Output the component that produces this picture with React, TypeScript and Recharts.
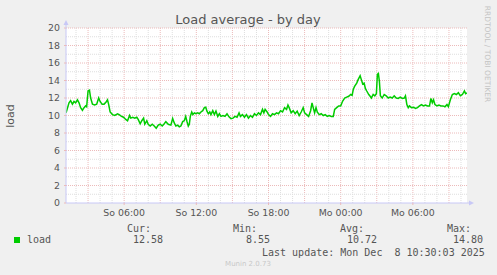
import { LineChart, Line, XAxis, YAxis, CartesianGrid, ReferenceLine } from "recharts";

// minutes since So 00:00 -> load
const SUNDAY_MORNING: [number, number][] = [
  [70, 10.3], [73, 10.5], [85, 11.45], [93, 11.7], [102, 11.3], [110, 11.6], [118, 11.45], [127, 11.8],
  [135, 11.45], [143, 10.9], [152, 10.6], [160, 10.9], [168, 11.1], [173, 11.0], [180, 12.8], [187, 12.9],
  [193, 12.0], [202, 11.3], [213, 11.2], [223, 11.3], [233, 12.0], [240, 11.6], [250, 11.3], [260, 11.3],
  [270, 11.55], [277, 11.8], [283, 11.25], [290, 10.4], [302, 10.1], [313, 10.0], [327, 10.2], [335, 10.1],
  [347, 9.9], [357, 9.8], [368, 9.55], [377, 9.4], [387, 10.0], [393, 9.7], [403, 9.8], [413, 9.7],
  [423, 9.8], [430, 9.55], [440, 9.05], [448, 9.4], [457, 9.7], [463, 9.0], [473, 9.4], [480, 9.0],
  [490, 8.8], [500, 9.0], [510, 8.8], [520, 8.55], [530, 8.9], [540, 9.0], [550, 8.8], [560, 9.05],
];

const SUNDAY_AFTERNOON: [number, number][] = [
  [568, 9.3], [580, 9.0], [593, 8.9], [602, 9.65], [610, 9.15], [618, 8.8], [627, 8.9], [635, 8.7],
  [643, 8.8], [652, 9.3], [660, 9.4], [667, 9.9], [673, 9.35], [680, 8.8], [685, 9.0], [690, 9.9],
  [697, 10.4], [703, 10.1], [710, 10.3], [718, 10.2], [727, 10.3], [735, 10.2], [743, 10.4], [752, 10.55],
  [760, 10.9], [767, 10.95], [773, 10.5], [780, 10.2], [787, 10.4], [793, 10.1], [802, 10.55], [810, 10.1],
  [818, 10.5], [827, 9.9], [835, 10.2], [843, 9.9], [853, 10.0], [863, 9.9], [873, 10.2], [883, 9.85],
  [893, 9.65], [903, 9.7], [913, 9.9], [923, 9.8], [933, 10.3], [940, 9.9], [950, 10.1], [960, 9.8],
  [970, 10.1], [980, 9.7], [990, 10.0], [1000, 9.8], [1010, 10.2], [1020, 10.0], [1030, 10.3], [1040, 10.1],
  [1050, 10.7], [1057, 10.3], [1063, 10.7], [1073, 10.4],
];

const NIGHT: [number, number][] = [
  [1080, 10.1], [1090, 9.9], [1100, 10.2], [1110, 10.1], [1120, 10.3], [1130, 10.2], [1140, 10.55], [1150, 10.4],
  [1160, 10.9], [1170, 10.7], [1177, 11.2], [1183, 10.9], [1193, 10.3], [1203, 10.55], [1213, 10.2], [1223, 10.5],
  [1233, 10.0], [1243, 10.4], [1253, 10.9], [1260, 10.3], [1270, 10.1], [1280, 9.9], [1290, 10.55], [1297, 11.45],
  [1303, 10.9], [1310, 10.3], [1317, 10.9], [1323, 10.4], [1333, 10.1], [1343, 10.2], [1353, 10.0], [1363, 10.1],
  [1373, 9.9], [1383, 10.0], [1393, 9.9], [1403, 9.9], [1410, 10.7], [1420, 10.9], [1430, 11.1], [1440, 11.1],
  [1450, 11.65], [1460, 12.0], [1470, 12.1], [1480, 12.2], [1490, 12.4], [1497, 12.3], [1503, 13.0], [1510, 13.35],
  [1520, 13.7], [1527, 14.1], [1537, 14.55], [1543, 14.1], [1550, 13.6], [1557, 13.7], [1563, 13.1], [1570, 12.8],
  [1580, 12.4],
];

const MONDAY_MORNING: [number, number][] = [
  [1585, 12.25], [1593, 12.0], [1602, 12.4], [1610, 12.25], [1618, 12.5], [1623, 14.7], [1628, 14.8], [1633, 13.9],
  [1638, 12.25], [1647, 12.0], [1657, 12.4], [1667, 12.25], [1677, 12.0], [1687, 12.1], [1697, 12.0], [1707, 12.25],
  [1717, 12.0], [1727, 11.95], [1737, 12.1], [1747, 11.95], [1757, 12.0], [1763, 12.25], [1770, 11.25], [1777, 10.9],
  [1783, 11.1], [1793, 10.9], [1803, 10.95], [1813, 10.8], [1823, 10.9], [1833, 11.1], [1843, 11.25], [1853, 11.1],
  [1863, 11.2], [1873, 11.1], [1883, 11.1], [1890, 11.95], [1897, 11.45], [1903, 11.8], [1910, 11.25], [1920, 11.1],
  [1930, 11.2], [1940, 11.1], [1950, 11.1], [1960, 11.0], [1970, 11.25], [1977, 11.0], [1987, 11.8], [1997, 12.4],
  [2007, 12.5], [2017, 12.4], [2027, 12.6], [2037, 12.25], [2047, 12.4], [2057, 12.8], [2063, 12.5], [2070, 12.58],
];

const X_TICKS = [360, 720, 1080, 1440, 1800];
const X_LABELS = ["So 06:00", "So 12:00", "So 18:00", "Mo 00:00", "Mo 06:00"];
const Y_TICKS = [0, 2, 4, 6, 8, 10, 12, 14, 16, 18, 20];

const STATS = [
  { label: "Cur:", value: "12.58", lx: 127, vx: 133 },
  { label: "Min:", value: "8.55", lx: 233, vx: 246 },
  { label: "Avg:", value: "10.72", lx: 340, vx: 347 },
  { label: "Max:", value: "14.80", lx: 447, vx: 453 },
];

const T_START = 70;
const T_END = 2070;

const data = [...SUNDAY_MORNING, ...SUNDAY_AFTERNOON, ...NIGHT, ...MONDAY_MORNING].map(([t, load]) => ({ t, load }));

const hourLines: number[] = [];
for (let m = 120; m < T_END; m += 60) hourLines.push(m);
const valueLines: number[] = [];
for (let v = 1; v <= 20; v++) valueLines.push(v);

const SANS = "'DejaVu Sans', sans-serif";
const MONO = "'DejaVu Sans Mono', monospace";
const TEXT = "#555555";
const AXIS = "#c8c8f6";
const MINOR = "#dedede";
const MAJOR = "#ecbaba";

export default function App() {
  return (
    <div style={{ position: "absolute", left: 0, top: 0, width: 497, height: 275, background: "#f0f0f0", overflow: "hidden" }}>
      <LineChart width={497} height={275} data={data} margin={{ top: 28, right: 30, left: 0, bottom: 52 }}>
        <CartesianGrid horizontal={false} vertical={false} fill="#ffffff" />
        {hourLines.map((m) => (
          <ReferenceLine
            key={"x" + m}
            x={m}
            stroke={m % 180 === 0 ? MAJOR : MINOR}
            strokeDasharray="1 1"
          />
        ))}
        {valueLines.map((v) => (
          <ReferenceLine
            key={"y" + v}
            y={v}
            stroke={v % 2 === 0 ? MAJOR : MINOR}
            strokeDasharray="1 1"
          />
        ))}
        <XAxis
          type="number"
          dataKey="t"
          domain={[T_START, T_END]}
          ticks={X_TICKS}
          tickFormatter={(v) => X_LABELS[X_TICKS.indexOf(v)]}
          allowDataOverflow
          height={20}
          axisLine={{ stroke: AXIS }}
          tickLine={{ stroke: MAJOR }}
          tickSize={2}
          tickMargin={4}
          tick={{ fill: TEXT, fontSize: 9.4, fontFamily: SANS }}
        />
        <YAxis
          type="number"
          domain={[0, 20]}
          ticks={Y_TICKS}
          width={66}
          axisLine={{ stroke: AXIS }}
          tickLine={{ stroke: MAJOR }}
          tickSize={2}
          tickMargin={4}
          tick={{ fill: TEXT, fontSize: 9.4, fontFamily: SANS }}
        />
        <Line
          type="linear"
          dataKey="load"
          stroke="#00cc00"
          strokeWidth={1.5}
          dot={false}
          isAnimationActive={false}
        />
      </LineChart>
      <svg
        width={497}
        height={275}
        style={{ position: "absolute", left: 0, top: 0, pointerEvents: "none" }}
      >
        <text x={248} y={24} textAnchor="middle" fontFamily={SANS} fontSize={13} fill={TEXT}>
          Load average - by day
        </text>
        <text
          x={0}
          y={0}
          transform="translate(14 116) rotate(-90)"
          textAnchor="middle"
          fontFamily={SANS}
          fontSize={11}
          fill={TEXT}
        >
          load
        </text>
        <text
          x={0}
          y={0}
          transform="translate(484.5 54) rotate(90)"
          textAnchor="middle"
          fontFamily={SANS}
          fontSize={7.5}
          fill="#c4c4c4"
        >
          RRDTOOL / TOBI OETIKER
        </text>
        {/* axis arrows */}
        <line x1={66} y1={28} x2={66} y2={24} stroke={AXIS} />
        <polygon points="66,20 63.5,25 68.5,25" fill={AXIS} />
        <line x1={467} y1={203} x2={471} y2={203} stroke={AXIS} />
        <polygon points="474,203 469,200.5 469,205.5" fill={AXIS} />
        {/* legend */}
        <rect x={14} y={237} width={6} height={6} fill="#00cc00" />
        <text x={27} y={243} fontFamily={MONO} fontSize={10} fill={TEXT}>
          load
        </text>
        {STATS.map((s) => (
          <g key={s.label}>
            <text x={s.lx} y={231.5} fontFamily={MONO} fontSize={10} fill={TEXT}>
              {s.label}
            </text>
            <text x={s.vx} y={243} fontFamily={MONO} fontSize={10} fill={TEXT}>
              {s.value}
            </text>
          </g>
        ))}
        <text x={262} y={255.5} fontFamily={MONO} fontSize={10} fill={TEXT} style={{ whiteSpace: "pre" }}>
          {"Last update: Mon Dec  8 10:30:03 2025"}
        </text>
        <text x={248} y={266} textAnchor="middle" fontFamily={SANS} fontSize={7} fill="#c8c8c8">
          Munin 2.0.73
        </text>
      </svg>
    </div>
  );
}
